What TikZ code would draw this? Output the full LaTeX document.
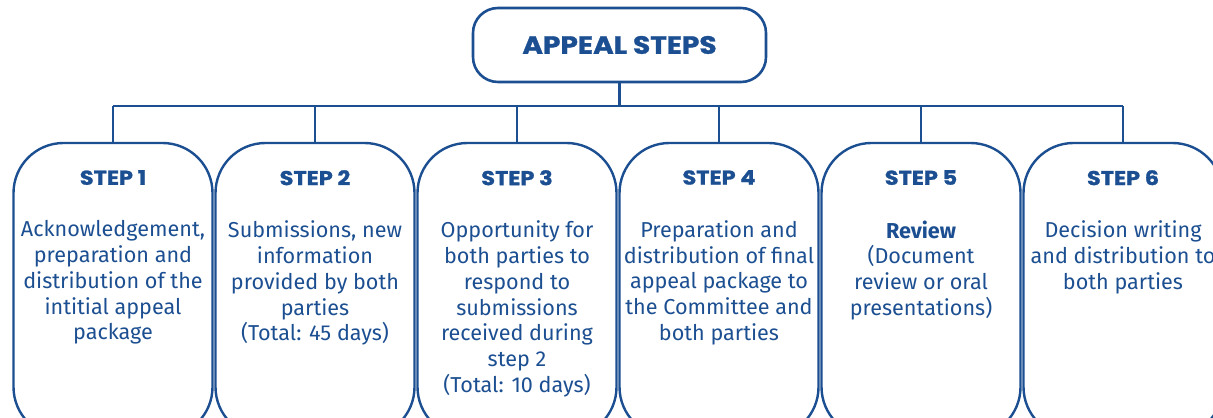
\documentclass[tikz,border=0pt]{standalone}
\usepackage{fontspec}
\setmainfont{Fira Sans}
\newfontfamily\headfont{Poppins}[FakeStretch=1.12, BoldFeatures={FakeBold=1.2}]
\usepackage{tikz}
\usetikzlibrary{positioning}
\definecolor{appealblue}{RGB}{28,79,145}

\tikzset{
  titlebox/.style={draw=appealblue, line width=1.3pt, rounded corners=12.5pt,
    minimum width=146.5pt, minimum height=37pt, text=appealblue,
    font=\headfont\bfseries\fontsize{12.5}{15}\selectfont},
  stepbox/.style={draw=appealblue, line width=1.2pt, rounded corners=25pt,
    minimum width=99.5pt, minimum height=147pt},
  stephead/.style={text=appealblue, inner sep=0pt,
    font=\headfont\bfseries\fontsize{10}{12}\selectfont},
  steptext/.style={text=appealblue, inner sep=0pt, align=center,
    font=\fontsize{10.8}{12.85}\selectfont},
  link/.style={draw=appealblue, line width=1.2pt}
}

\begin{document}
\begin{tikzpicture}[x=0.5pt,y=0.5pt]
\useasboundingbox (0,0) rectangle (1213,417);
\clip (0,0) rectangle (1213,417);
  % title
  \node[titlebox] (title) at (619.5,372) {APPEAL STEPS};
  \coordinate (bus) at (0,311);
  % step boxes
  \node[stepbox] (s1) at (113,127) {};
  \node[stepbox] (s2) at (315,127) {};
  \node[stepbox] (s3) at (517,127) {};
  \node[stepbox] (s4) at (719,127) {};
  \node[stepbox] (s5) at (921,127) {};
  \node[stepbox] (s6) at (1123,127) {};
  % connectors
  \draw[link] (title.south) -- (title.south |- bus);
  \draw[link] (s1.north |- bus) -- (s6.north |- bus);
  \draw[link] (s1.north |- bus) -- (s1.north);
  \draw[link] (s2.north |- bus) -- (s2.north);
  \draw[link] (s3.north |- bus) -- (s3.north);
  \draw[link] (s4.north |- bus) -- (s4.north);
  \draw[link] (s5.north |- bus) -- (s5.north);
  \draw[link] (s6.north |- bus) -- (s6.north);
  % headings
  \node[stephead, below=14pt of s1.north] (h1) {STEP 1};
  \node[stephead, below=14pt of s2.north] (h2) {STEP 2};
  \node[stephead, below=14pt of s3.north] (h3) {STEP 3};
  \node[stephead, below=14pt of s4.north] (h4) {STEP 4};
  \node[stephead, below=14pt of s5.north] (h5) {STEP 5};
  \node[stephead, below=14pt of s6.north] (h6) {STEP 6};
  % texts
  \node[steptext, below=17.5pt of h1] (t1) {Acknowledgement,\\preparation and\\distribution of the\\intitial appeal\\package};
  \node[steptext, below=17.5pt of h2] (t2) {Submissions, new\\information\\provided by both\\parties\\(Total: 45 days)};
  \node[steptext, below=17.5pt of h3] (t3) {Opportunity for\\both parties to\\respond to\\submissions\\received during\\step 2\\(Total: 10 days)};
  \node[steptext, below=17.5pt of h4] (t4) {Preparation and\\distribution of final\\appeal package to\\the Committee and\\both parties};
  \node[steptext, below=17.5pt of h5] (t5) {{\bfseries Review}\\(Document\\review or oral\\presentations)};
  \node[steptext, below=17.5pt of h6] (t6) {Decision writing\\and distribution to\\both parties};
\end{tikzpicture}
\end{document}
